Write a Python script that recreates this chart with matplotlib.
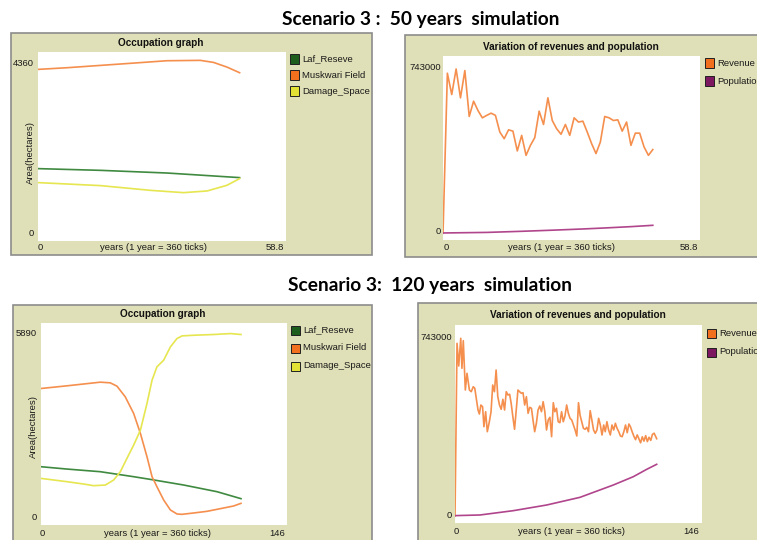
import matplotlib
matplotlib.use("Agg")
import matplotlib.pyplot as plt
from matplotlib.patches import Rectangle

# ---------------- data ----------------
# Scenario 3, 50 years - occupation graph (years, hectares)
occ50_muskwari_x = [0, 6.9, 14.8, 22.7, 30.6, 38.5, 41.6, 44.8, 47.8]
occ50_muskwari_y = [4134, 4176, 4234, 4292, 4351, 4360, 4309, 4192, 4051]
occ50_laf_x = [0, 14.8, 30.6, 47.8]
occ50_laf_y = [1651, 1608, 1541, 1426]
occ50_damage_x = [0, 14.8, 26.6, 34.5, 40.1, 44.8, 47.8]
occ50_damage_y = [1301, 1226, 1108, 1050, 1092, 1234, 1401]

# Scenario 3, 50 years - revenues and population
rev50_x = [0, 1, 2, 3, 4, 5, 6, 7, 8, 9, 10, 11, 12, 13, 14, 15, 16, 17, 18, 19,
           20, 21, 22, 23, 24, 25, 26, 27, 28, 29, 30, 31, 32, 33, 34, 35, 36, 37,
           38, 39, 40, 41, 42, 43, 44, 45, 46, 47, 48]
rev50_y = [0, 721000, 625000, 740000, 610000, 733000, 526000, 595000, 553000,
           520000, 531000, 541000, 531000, 456000, 426000, 466000, 460000, 371000,
           441000, 351000, 396000, 431000, 550000, 490000, 610000, 508000, 471000,
           446000, 490000, 441000, 520000, 501000, 505000, 456000, 404000, 359000,
           411000, 526000, 520000, 508000, 511000, 460000, 501000, 396000, 451000,
           451000, 389000, 351000, 377000]
pop50_x = [0, 10, 18, 25, 32, 37, 43, 48]
pop50_y = [1500, 4000, 9000, 14000, 19500, 24000, 30000, 36000]

# Scenario 3, 120 years - occupation graph
occ120_muskwari_x = [0, 15.4, 35.2, 41.1, 45.1, 50, 55, 59, 62.9, 65.9, 68.8, 72.8,
                     76.8, 80.7, 83.7, 90.6, 98.5, 106.4, 114.3, 118.7]
occ120_muskwari_y = [4129, 4215, 4332, 4311, 4204, 3863, 3329, 2689, 1942, 1302,
                     982, 555, 235, 107, 96, 139, 192, 277, 363, 448]
occ120_laf_x = [0, 15.4, 35.2, 55, 64.9, 84.7, 104.4, 118.7]
occ120_laf_y = [1622, 1547, 1462, 1302, 1216, 1035, 822, 598]
occ120_damage_x = [0, 15.4, 25.3, 31.3, 38.2, 43.1, 47.1, 51, 55, 59, 62.9, 65.9,
                   68.8, 72.8, 76.8, 80.7, 83.7, 90.6, 102.5, 112.4, 118.7]
occ120_damage_y = [1248, 1142, 1067, 1014, 1035, 1195, 1462, 1889, 2315, 2795,
                   3649, 4396, 4823, 5036, 5463, 5730, 5815, 5836, 5860, 5890, 5860]

# Scenario 3, 120 years - revenues and population
rev120_x = [0, 1.2, 2.2, 3.4, 4.1, 4.9, 6.1, 7.1, 8.5, 9.6, 10.8, 11.7, 13.6, 14.4,
            15.3, 16.3, 17.1, 18.1, 19.1, 20.3, 21.3, 22.3, 23.3, 24.3, 25.3, 26.3,
            27.3, 28.3, 29.3, 30.3, 31.3, 32.3, 33.2, 34.2, 35.2, 36.2, 37.2, 38.2,
            39.2, 40.2, 41.2, 42.2, 43.2, 44.2, 45.2, 46.1, 47.1, 48.1, 49.1, 50.1,
            51.1, 52.1, 53.1, 54.1, 55.1, 56.1, 57.1, 58.1, 59.0, 60.0, 61.0, 62.0,
            63.0, 64.0, 65.0, 66.0, 67.0, 68.0, 69.0, 70.0, 71.0, 72.0, 73.0, 73.9,
            74.9, 75.9, 76.9, 77.9, 78.9, 79.9, 80.9, 81.9, 82.9, 83.9, 84.9, 85.9,
            86.9, 87.9, 88.8, 89.8, 90.8, 91.8, 92.8, 93.8, 94.8, 95.8, 96.8, 97.8,
            98.8, 99.8, 100.8, 101.8, 102.8, 103.7, 104.7, 105.7, 106.7, 107.7,
            108.7, 109.7, 110.7, 111.7, 112.7, 113.7, 114.7, 115.7, 116.7, 117.7,
            118.7, 119.2]
rev120_y = [0, 719600, 625000, 740500, 615400, 730500, 525000, 594600, 525000,
            518000, 538800, 532100, 441700, 425000, 462500, 455400, 372100, 434600,
            351300, 392900, 434600, 545900, 518000, 608400, 497100, 462500, 444600,
            486300, 441700, 518000, 504200, 507100, 469600, 413800, 361300, 441700,
            525000, 518000, 511300, 513800, 462500, 497100, 427900, 452900, 448800,
            400000, 351300, 386300, 441700, 458400, 434600, 476300, 434600, 358400,
            400000, 411300, 330500, 472100, 434600, 448800, 392900, 388800, 434600,
            392900, 416700, 462500, 427900, 407100, 400000, 379200, 358400, 333400,
            472100, 420900, 392900, 365400, 361300, 369600, 351300, 438800, 400000,
            358400, 344600, 358400, 407100, 379200, 337500, 379200, 351300, 392900,
            358400, 337500, 379200, 358400, 386300, 365400, 351300, 333400, 330500,
            351300, 379200, 347100, 383400, 372100, 351300, 333000, 318000, 338000,
            322000, 305000, 330000, 312000, 335000, 310000, 328000, 315000, 340000,
            345000, 330000, 322000]
pop120_x = [0, 14.8, 34.5, 54.2, 73.9, 93.6, 105.4, 113.3, 119.2]
pop120_y = [1500, 4200, 22200, 45800, 77800, 129200, 163800, 194400, 215300]

occ_labels = ["Laf_Reseve", "Muskwari Field", "Damage_Space"]
rev_labels = ["Revenue", "Population"]

# ---------------- style ----------------
W, H = 757, 540
PANEL_BG = "#e0e0b8"
GREEN_BOX, ORANGE_BOX, YELLOW_BOX, PURPLE_BOX = "#1d5e1d", "#f26f1e", "#e2e236", "#7d1760"
GREEN_LN, ORANGE_LN, YELLOW_LN, PURPLE_LN = "#3f8a40", "#f58f4e", "#e6e650", "#b0458c"
LW = 1.2
SMALL = dict(family=["Liberation Sans", "DejaVu Sans"], fontsize=6.8, color="#1a1a1a")
PTITLE = dict(family=["Liberation Sans", "DejaVu Sans"], fontsize=7.2,
              fontweight="bold", color="#111111")
BIG = dict(family=["Lato", "DejaVu Sans"], fontsize=13.8, fontweight="bold", color="black")

fig = plt.figure(figsize=(W / 100, H / 100), dpi=100)
fig.patch.set_facecolor("white")


def fx(x):
    return x / W


def fy(y):
    return 1 - y / H


def text(x, y, s, ha="center", va="center", rot=0, **kw):
    fig.text(fx(x), fy(y), s, ha=ha, va=va, rotation=rot, zorder=5, **kw)


def frame(x0, y0, x1, y1):
    fig.patches.append(Rectangle((fx(x0), fy(y1)), (x1 - x0) / W, (y1 - y0) / H,
                                 transform=fig.transFigure, facecolor=PANEL_BG,
                                 edgecolor="#8c8c8c", linewidth=1.2, zorder=-5))


def plot_axes(x0, y0, x1, y1, xmax, ylim):
    ax = fig.add_axes([fx(x0), fy(y1), (x1 - x0) / W, (y1 - y0) / H])
    ax.set_zorder(2)
    ax.set_facecolor("white")
    ax.set_xticks([])
    ax.set_yticks([])
    for s in ax.spines.values():
        s.set_visible(False)
    ax.set_xlim(0, xmax)
    ax.set_ylim(*ylim)
    return ax


def legend(x, ys, labels, colors):
    for yy, lab, col in zip(ys, labels, colors):
        fig.patches.append(Rectangle((fx(x), fy(yy + 4.5)), 9 / W, 9 / H,
                                     transform=fig.transFigure, facecolor=col,
                                     edgecolor="#202020", linewidth=0.7, zorder=3))
        text(x + 12, yy, lab, ha="left", **SMALL)


# ---------------- titles ----------------
text(421, 19, "Scenario 3 :  50 years  simulation", **BIG)
text(430, 285, "Scenario 3:  120 years  simulation", **BIG)

# ---------------- panel 1: occupation, 50 years ----------------
frame(11, 33, 372, 255)
ax = plot_axes(38, 52, 286, 241, 58.8, (-0.0367 * 4360, 1.048 * 4360))
ax.plot(occ50_laf_x, occ50_laf_y, color=GREEN_LN, lw=LW)
ax.plot(occ50_muskwari_x, occ50_muskwari_y, color=ORANGE_LN, lw=LW)
ax.plot(occ50_damage_x, occ50_damage_y, color=YELLOW_LN, lw=LW)
text(161, 43, "Occupation graph", **PTITLE)
text(34, 63, "4360", ha="right", **SMALL)
text(34, 234, "0", ha="right", **SMALL)
text(38, 248, "0", ha="left", **SMALL)
text(284, 248, "58.8", ha="right", **SMALL)
text(153, 248, "years (1 year = 360 ticks)", **SMALL)
text(30, 152, "Area(hectares)", rot=90, **SMALL)
legend(290, [59, 75, 91], occ_labels, [GREEN_BOX, ORANGE_BOX, YELLOW_BOX])

# ---------------- panel 2: revenues, 50 years ----------------
frame(405, 35, 770, 257)
ax = plot_axes(443, 56, 700, 240, 58.8, (-0.0406 * 743000, 1.0746 * 743000))
ax.plot(rev50_x, rev50_y, color=ORANGE_LN, lw=LW)
ax.plot(pop50_x, pop50_y, color=PURPLE_LN, lw=LW)
text(571, 47, "Variation of revenues and population", **PTITLE)
text(441, 68, "743000", ha="right", **SMALL)
text(441, 232, "0", ha="right", **SMALL)
text(444, 248, "0", ha="left", **SMALL)
text(698, 248, "58.8", ha="right", **SMALL)
text(562, 248, "years (1 year = 360 ticks)", **SMALL)
legend(705, [63, 81], rev_labels, [ORANGE_BOX, PURPLE_BOX])

# ---------------- panel 3: occupation, 120 years ----------------
frame(13, 305, 372, 560)
ax = plot_axes(41, 323, 287, 525, 146, (-0.0418 * 5890, 1.0575 * 5890))
ax.plot(occ120_laf_x, occ120_laf_y, color=GREEN_LN, lw=LW)
ax.plot(occ120_muskwari_x, occ120_muskwari_y, color=ORANGE_LN, lw=LW)
ax.plot(occ120_damage_x, occ120_damage_y, color=YELLOW_LN, lw=LW)
text(163, 314, "Occupation graph", **PTITLE)
text(37, 333, "5890", ha="right", **SMALL)
text(37, 517, "0", ha="right", **SMALL)
text(40, 533, "0", ha="left", **SMALL)
text(285, 533, "146", ha="right", **SMALL)
text(157, 533, "years (1 year = 360 ticks)", **SMALL)
text(33, 427, "Area(hectares)", rot=90, **SMALL)
legend(291, [330, 348, 366], occ_labels, [GREEN_BOX, ORANGE_BOX, YELLOW_BOX])

# ---------------- panel 4: revenues, 120 years ----------------
frame(418, 303, 770, 560)
ax = plot_axes(455, 325, 702, 523, 146, (-0.0393 * 743000, 1.0712 * 743000))
ax.plot(rev120_x, rev120_y, color=ORANGE_LN, lw=LW)
ax.plot(pop120_x, pop120_y, color=PURPLE_LN, lw=LW)
text(578, 315, "Variation of revenues and population", **PTITLE)
text(452, 338, "743000", ha="right", **SMALL)
text(452, 515, "0", ha="right", **SMALL)
text(454, 532, "0", ha="left", **SMALL)
text(699, 532, "146", ha="right", **SMALL)
text(572, 532, "years (1 year = 360 ticks)", **SMALL)
legend(707, [333, 352], rev_labels, [ORANGE_BOX, PURPLE_BOX])

fig.savefig("out.png", dpi=100, facecolor="white")
